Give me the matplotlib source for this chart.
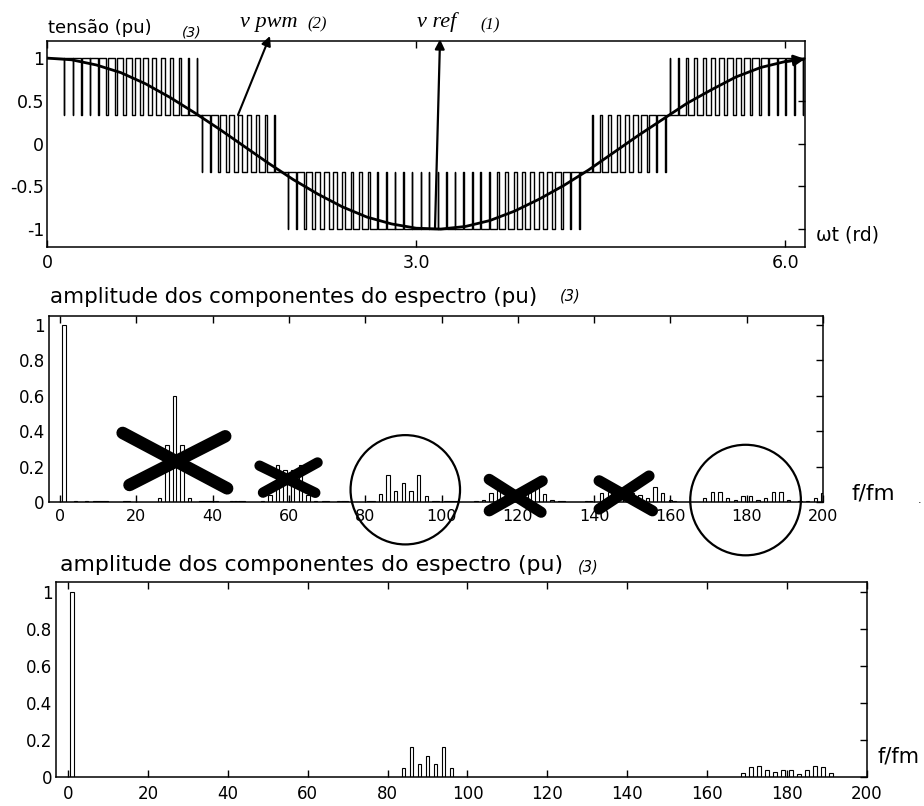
import numpy as np
import matplotlib
matplotlib.use('Agg')
import matplotlib.pyplot as plt
from matplotlib.patches import Ellipse

W, H = 924, 806

# reference voltage (pu)
wt_ref = [0.0, 0.2, 0.4, 0.6, 0.8, 1.0, 1.2, 1.4, 1.6, 1.8, 2.0, 2.2, 2.4, 2.6, 2.8, 3.0,
          3.2, 3.4, 3.6, 3.8, 4.0, 4.2, 4.4, 4.6, 4.8, 5.0, 5.2, 5.4, 5.6, 5.8, 6.0, 6.16]
v_ref = [1.00, 0.98, 0.92, 0.83, 0.70, 0.54, 0.36, 0.17, -0.03, -0.23, -0.42, -0.59, -0.74,
         -0.86, -0.94, -0.99, -1.00, -0.97, -0.90, -0.79, -0.65, -0.49, -0.31, -0.11, 0.09,
         0.28, 0.47, 0.63, 0.78, 0.89, 0.96, 0.99]

# multilevel pwm: 4 levels, 90 carrier periods per cycle
pwm_levels = [-1.0, -1 / 3, 1 / 3, 1.0]
pulses_per_cycle = 90

# spectrum before cancellation (middle panel)
mid_harm = [1, 4, 7, 9, 10, 11, 12, 17, 18, 26, 28, 30, 32, 34, 37, 38, 39, 40, 41, 45, 46,
            47, 48, 53, 55, 57, 59, 60, 61, 63, 65, 67, 69, 70, 73, 74, 75, 81, 82, 84, 86,
            88, 90, 92, 94, 96, 98, 99, 101, 102, 103, 104, 109, 111, 113, 115, 117, 119,
            121, 123, 125, 127, 129, 131, 132, 138, 139, 142, 144, 146, 148, 150, 152, 154,
            156, 158, 160, 161, 169, 171, 173, 175, 177, 179, 181, 183, 185, 187, 189, 191,
            194, 196, 198, 200]
mid_amp = [1.0, 0.005, 0.005, 0.005, 0.005, 0.005, 0.005, 0.005, 0.005, 0.02, 0.32, 0.60,
           0.32, 0.02, 0.005, 0.005, 0.005, 0.005, 0.005, 0.005, 0.005, 0.005, 0.005, 0.005,
           0.04, 0.21, 0.18, 0.10, 0.18, 0.21, 0.04, 0.005, 0.005, 0.005, 0.005, 0.005,
           0.005, 0.005, 0.005, 0.045, 0.155, 0.06, 0.11, 0.06, 0.155, 0.035, 0.005, 0.005,
           0.005, 0.005, 0.005, 0.005, 0.005, 0.01, 0.05, 0.065, 0.07, 0.04, 0.04, 0.07,
           0.08, 0.045, 0.01, 0.005, 0.005, 0.005, 0.005, 0.05, 0.055, 0.08, 0.03, 0.05,
           0.04, 0.02, 0.085, 0.05, 0.01, 0.005, 0.02, 0.055, 0.055, 0.02, 0.01, 0.035,
           0.035, 0.01, 0.025, 0.055, 0.055, 0.01, 0.005, 0.005, 0.02, 0.05]

# spectrum after cancellation (bottom panel)
bot_harm = [1, 84, 86, 88, 90, 92, 94, 96, 169, 171, 173, 175, 177, 179, 181, 183, 185,
            187, 189, 191]
bot_amp = [1.0, 0.047, 0.16, 0.069, 0.115, 0.069, 0.16, 0.047, 0.023, 0.056, 0.06, 0.04,
           0.025, 0.037, 0.04, 0.015, 0.037, 0.06, 0.055, 0.02]

# hand-drawn marks on the middle spectrum (data units)
cross_lines = [((16.4, 0.39), (43.8, 0.077)), ((18.2, 0.096), (43.3, 0.371)),
               ((52.3, 0.205), (66.9, 0.052)), ((53.2, 0.053), (67.5, 0.223)),
               ((112.5, 0.128), (126.1, -0.058)), ((112.5, -0.05), (126.4, 0.119)),
               ((141.3, 0.12), (155.3, -0.05)), ((141.3, -0.04), (154.4, 0.147))]
cross_widths = [9, 9, 7.5, 7.5, 8, 8, 8, 8]
circles = [(90.5, 0.069, 28.7, 0.617), (179.7, 0.011, 29.0, 0.624)]


def box(x0, y0, x1, y1):
    return [x0 / W, 1 - y1 / H, (x1 - x0) / W, (y1 - y0) / H]


def ftext(px, py, s, **kw):
    fig.text(px / W, 1 - py / H, s, **kw)


def style(ax, ylabels_pad):
    ax.tick_params(direction='in', top=True, right=True, left=False, length=5,
                   width=1, labelsize=12, pad=5)
    ax.tick_params(axis='y', pad=ylabels_pad)
    for sp in ax.spines.values():
        sp.set_linewidth(1.1)


fig = plt.figure(figsize=(W / 100, H / 100), dpi=100)

# ---- top: pwm signal and reference
ax1 = fig.add_axes(box(47, 41, 805, 247))
T = 2 * np.pi / pulses_per_cycle
t_pwm, v_pwm = [], []
k = 0
while k * T < wt_ref[-1]:
    t0 = k * T
    vc = np.interp(t0 + T / 2, wt_ref, v_ref)
    i = int(np.clip(np.searchsorted(pwm_levels, vc) - 1, 0, 2))
    lo, hi = pwm_levels[i], pwm_levels[i + 1]
    d = float(np.clip((vc - lo) / (hi - lo), 0.0, 1.0))
    if d > 0.98:
        # notch too narrow to show near the crest
        t_pwm += [t0, t0 + T]
        v_pwm += [hi, hi]
    else:
        a = t0 + (1 - d) * T / 2
        b = t0 + (1 + d) * T / 2
        t_pwm += [t0, a, a, b, b, t0 + T]
        v_pwm += [lo, lo, hi, hi, lo, lo]
    k += 1
ax1.plot(t_pwm, v_pwm, color='black', lw=1.0)
ax1.plot(wt_ref, v_ref, color='black', lw=2)
ax1.annotate('', xy=(wt_ref[-1], v_ref[-1]), xytext=(wt_ref[-2], v_ref[-2]),
             arrowprops=dict(arrowstyle='-|>', color='black', lw=2, mutation_scale=16,
                             shrinkA=0, shrinkB=0))
ax1.set_xlim(0, 6.16)
ax1.set_ylim(-1.21, 1.2)
ax1.set_xticks([0, 3, 6])
ax1.set_xticklabels(['0', '3.0', '6.0'])
ax1.set_yticks([-1, -0.5, 0, 0.5, 1])
ax1.set_yticklabels(['-1', '-0.5', '0', '0.5', '1'])
style(ax1, 2)
ax1.tick_params(labelsize=12.5)

# label arrows
ax1.annotate('', xy=(1.812, 1.258), xytext=(1.552, 0.335), annotation_clip=False,
             arrowprops=dict(arrowstyle='-|>', color='black', lw=1.5, mutation_scale=14,
                             shrinkA=0, shrinkB=0))
ax1.annotate('', xy=(3.194, 1.22), xytext=(3.153, -0.999), annotation_clip=False,
             arrowprops=dict(arrowstyle='-|>', color='black', lw=1.6, mutation_scale=14,
                             shrinkA=0, shrinkB=0))

ftext(48, 28, 'tensão (pu)', fontsize=13, va='center')
ftext(182, 32, '(3)', fontsize=10, style='italic', va='center')
ftext(240, 27, 'v pwm', fontsize=16, family='Liberation Serif', style='italic', va='baseline')
ftext(307, 28, '(2)', fontsize=12, family='Liberation Serif', style='italic', va='baseline')
ftext(417, 27, 'v ref', fontsize=16, family='Liberation Serif', style='italic', va='baseline')
ftext(480, 29, '(1)', fontsize=12, family='Liberation Serif', style='italic', va='baseline')
ftext(816, 235, 'ωt (rd)', fontsize=13.5, va='center')

# ---- middle spectrum
ax2 = fig.add_axes(box(49, 316, 823, 502))
ax2.bar(mid_harm, mid_amp, width=0.9, color='white', edgecolor='black', linewidth=0.8)
ax2.set_xlim(-2.9, 200)
ax2.set_ylim(0, 1.05)
ax2.set_xticks(range(0, 201, 20))
ax2.set_yticks([0, 0.2, 0.4, 0.6, 0.8, 1])
ax2.set_yticklabels(['0', '0.2', '0.4', '0.6', '0.8', '1'])
style(ax2, 3)
ax2.tick_params(axis='x', labelsize=11.5)
for (p0, p1), lw in zip(cross_lines, cross_widths):
    ax2.plot([p0[0], p1[0]], [p0[1], p1[1]], color='black', lw=lw,
             solid_capstyle='round', clip_on=False, zorder=5)
for cx, cy, w, h in circles:
    ax2.add_patch(Ellipse((cx, cy), w, h, fill=False, lw=1.6, edgecolor='black',
                          clip_on=False, zorder=5))
ftext(50, 297, 'amplitude dos componentes do espectro (pu)', fontsize=15.4, va='center')
ftext(560, 296, '(3)', fontsize=10.5, style='italic', va='center')
ftext(852, 493, 'f/fm', fontsize=15.5, va='center')
ftext(918, 500, '.', fontsize=8, va='center')

# ---- bottom spectrum
ax3 = fig.add_axes(box(56, 582, 867, 777))
ax3.bar(bot_harm, bot_amp, width=0.9, color='white', edgecolor='black', linewidth=0.8)
ax3.set_xlim(-3, 200)
ax3.set_ylim(0, 1.054)
ax3.set_xticks(range(0, 201, 20))
ax3.set_yticks([0, 0.2, 0.4, 0.6, 0.8, 1])
ax3.set_yticklabels(['0', '0.2', '0.4', '0.6', '0.8', '1'])
style(ax3, 2.5)
ax3.tick_params(axis='x', pad=6)
ftext(60, 565, 'amplitude dos componentes do espectro (pu)', fontsize=15.8, va='center')
ftext(578, 567, '(3)', fontsize=10.5, style='italic', va='center')
ftext(878, 757, 'f/fm', fontsize=15, va='center')

fig.savefig('out.png', dpi=100)
